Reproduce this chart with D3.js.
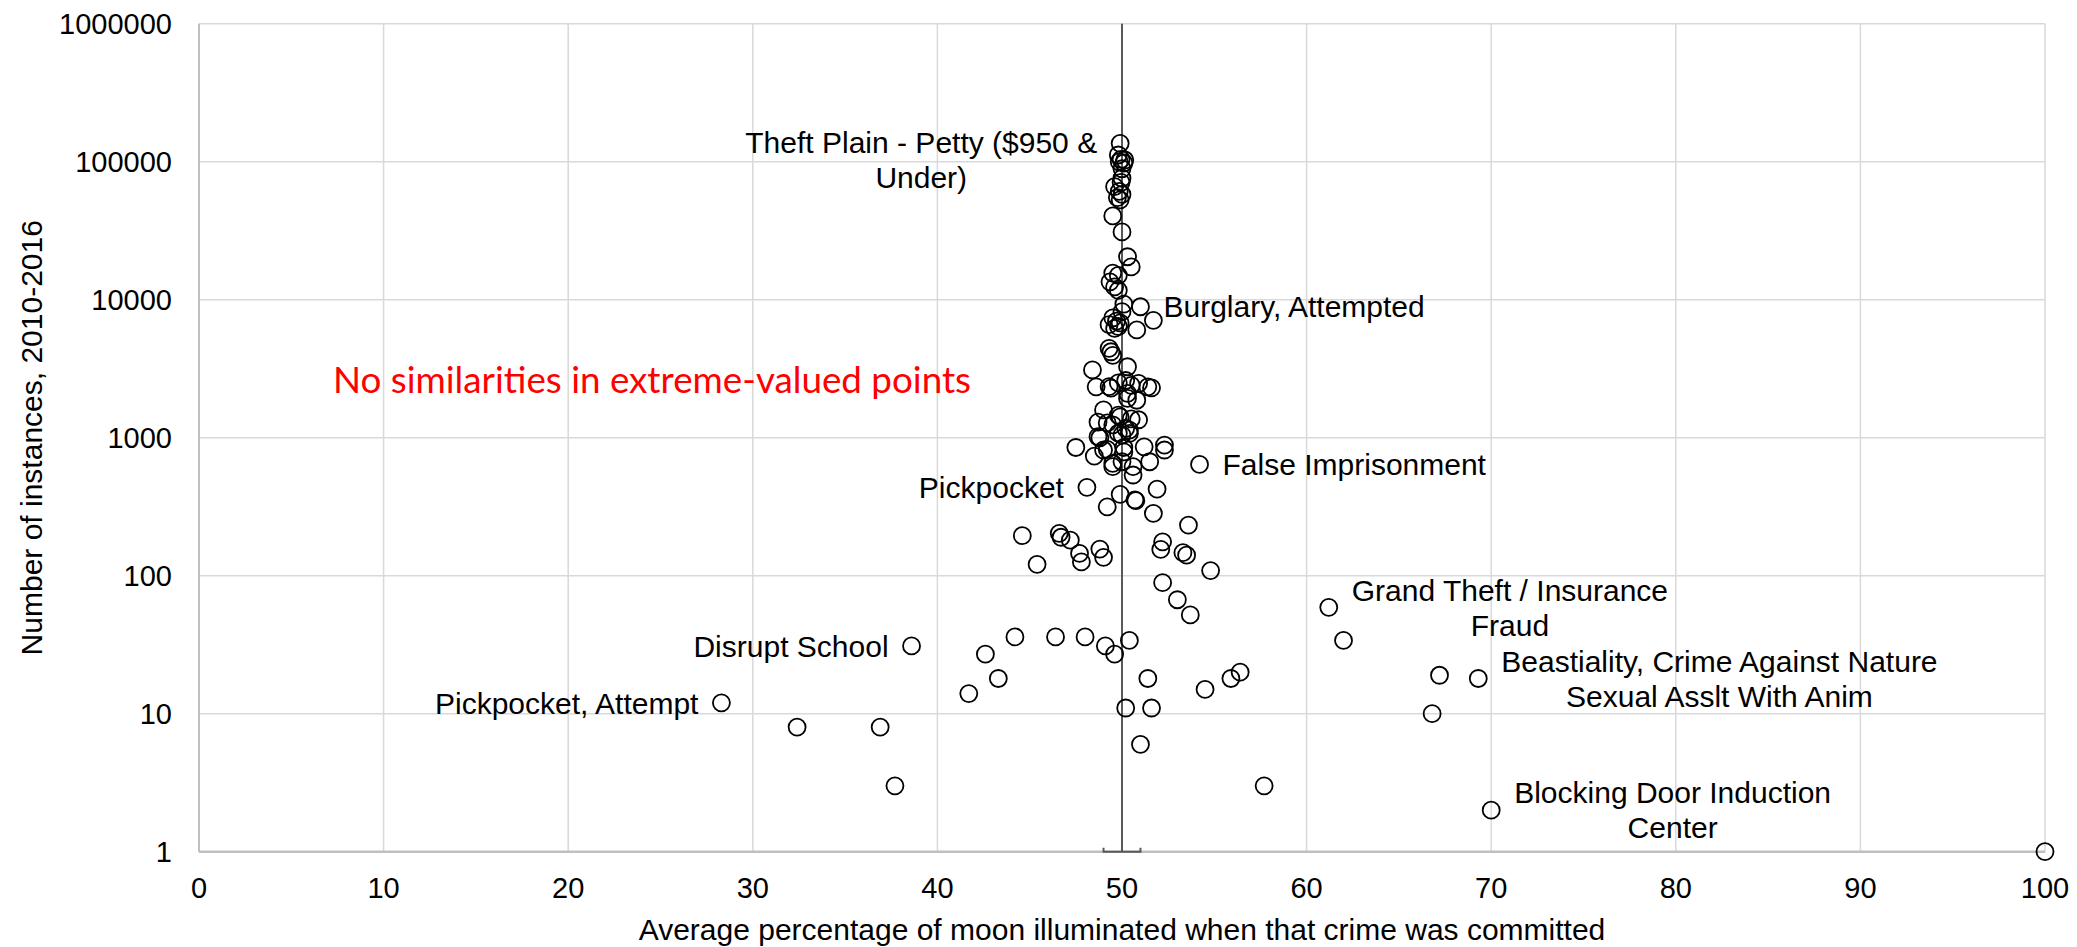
<!DOCTYPE html>
<html>
<head>
<meta charset="utf-8">
<script src="https://cdn.jsdelivr.net/npm/d3@7"></script>
<style>
  body { margin: 0; background: #fff; }
  svg { display: block; }
</style>
</head>
<body>
<div id="app"></div>
<script>
const WIDTH = 2077;
const HEIGHT = 947;

// average % of moon illuminated, per crime type
const moonPct = [
  49.9, 49.8, 49.95, 50.15, 49.85, 50.1, 50.0, 50.0, 49.95, 49.6, 49.85, 50.0, 49.75, 49.9,
  49.5, 50.0, 50.3, 50.5, 49.5, 49.8, 49.35, 49.6, 49.8,
  50.1, 51.0, 50.0, 49.5, 49.7, 49.9, 49.3, 49.8, 49.6, 51.7, 50.8, 49.3, 49.4, 49.5,
  48.4, 50.3, 48.6, 49.3, 49.8, 50.2, 50.5, 50.9, 51.4, 51.6, 49.4, 50.3, 50.8, 50.3,
  49.0, 49.8, 50.5, 48.7, 49.2, 49.5, 49.9, 50.9, 50.4, 49.8, 50.2, 48.8, 48.7, 50.0, 50.4,
  47.5, 48.5, 49.2, 49.0, 49.5, 49.5, 50.1, 50.1, 50.0, 50.6, 51.2, 51.5, 52.3, 52.3, 50.6,
  54.2, 48.1, 49.9, 50.7, 50.75, 51.9, 49.2, 51.7, 53.6,
  44.6, 46.6, 46.7, 47.2, 47.7, 47.8, 48.8, 49.0, 45.4, 52.2, 52.1, 53.3, 53.5, 54.8,
  52.2, 53.0, 53.7, 44.2, 46.4, 48.0, 49.1, 49.6, 50.4, 42.6, 43.3, 41.7, 51.4, 54.5, 55.9, 56.4,
  38.6, 28.3, 32.4, 36.9, 37.7, 50.2, 51.6, 51.0, 57.7,
  61.2, 62.0, 67.2, 69.3, 66.8, 70.0, 100
];

// number of instances, 2010-2016
const instances = [
  136000, 112000, 104000, 103000, 100000, 98000, 89000, 76000, 71000, 66000, 61000, 58000, 55000, 53000,
  40500, 31000, 20500, 17300, 15600, 15000, 13500, 12400, 11700,
  9300, 8900, 8200, 7400, 7000, 6800, 6600, 6400, 6200, 7100, 6050, 4450, 4200, 3950,
  3100, 3270, 2340, 2350, 2500, 2600, 2400, 2480, 2340, 2300, 2290, 2100, 1870, 1930,
  1590, 1460, 1370, 1300, 1280, 1240, 1415, 1350, 1135, 1080, 1170, 1000, 1017, 1047, 1075,
  850, 736, 824, 815, 617, 652, 850, 790, 670, 617, 860, 670, 885, 815, 537,
  641, 437, 389, 355, 350, 425, 316, 283, 233,
  195, 203, 190, 181, 145, 126, 156, 136, 121, 176, 155, 147, 141, 109,
  89, 67, 52, 36, 36, 36, 31, 27, 34, 27, 18, 14, 18, 15, 18, 20,
  31, 12, 8, 8, 3, 11, 11, 6, 3,
  59, 34, 19, 18, 10, 2, 1
];

// labelled points
const labelNames = [
  "Theft Plain - Petty ($950 &\nUnder)",
  "Burglary, Attempted",
  "False Imprisonment",
  "Pickpocket",
  "Disrupt School",
  "Pickpocket, Attempt",
  "Grand Theft / Insurance\nFraud",
  "Beastiality, Crime Against Nature\nSexual Asslt With Anim",
  "Blocking Door Induction\nCenter"
];
const labelPct = [49.9, 51.0, 54.2, 48.1, 38.6, 28.3, 61.2, 69.3, 70.0];
const labelCount = [104000, 8900, 641, 437, 31, 12, 59, 18, 2];
const labelSide = ["left", "right", "right", "left", "left", "left", "right", "right", "right"];

const xTicks = [0, 10, 20, 30, 40, 50, 60, 70, 80, 90, 100];
const yTicks = [1, 10, 100, 1000, 10000, 100000, 1000000];

const annotation = "No similarities in extreme-valued points";

const FONT = "'Liberation Sans', Arial, sans-serif";
const LABEL_SIZE = 30;
const LINE_H = 35;
const GAP = 23;

const x = d3.scaleLinear().domain([0, 100]).range([199, 2045]);
const y = d3.scaleLog().domain([1, 1000000]).range([851.7, 23.8]);

const svg = d3.select("#app")
  .append("svg")
  .attr("width", WIDTH)
  .attr("height", HEIGHT)
  .style("font-family", FONT);

// grid
const grid = svg.append("g").attr("id", "grid")
  .attr("stroke", "#d9d9d9")
  .attr("stroke-width", 1.5);

grid.selectAll("line.v")
  .data(xTicks.slice(1))
  .join("line")
  .attr("class", "v")
  .attr("x1", d => x(d)).attr("x2", d => x(d))
  .attr("y1", y(1)).attr("y2", y(1000000));

grid.selectAll("line.h")
  .data(yTicks.slice(1))
  .join("line")
  .attr("class", "h")
  .attr("x1", x(0)).attr("x2", x(100))
  .attr("y1", d => y(d)).attr("y2", d => y(d));

// axes lines
svg.append("line")
  .attr("x1", x(0)).attr("x2", x(0))
  .attr("y1", y(1)).attr("y2", y(1000000))
  .attr("stroke", "#bfbfbf").attr("stroke-width", 2);

svg.append("line")
  .attr("x1", x(0)).attr("x2", x(100))
  .attr("y1", y(1)).attr("y2", y(1))
  .attr("stroke", "#bfbfbf").attr("stroke-width", 2.5);

// tick labels
svg.append("g")
  .selectAll("text")
  .data(yTicks)
  .join("text")
  .attr("x", 172)
  .attr("y", d => y(d))
  .attr("dy", "0.36em")
  .attr("text-anchor", "end")
  .attr("font-size", 29)
  .attr("fill", "#000")
  .text(d => d);

svg.append("g")
  .selectAll("text")
  .data(xTicks)
  .join("text")
  .attr("x", d => x(d))
  .attr("y", 898)
  .attr("text-anchor", "middle")
  .attr("font-size", 29)
  .attr("fill", "#000")
  .text(d => d);

// axis titles
svg.append("text")
  .attr("x", (x(0) + x(100)) / 2)
  .attr("y", 940)
  .attr("text-anchor", "middle")
  .attr("font-size", 30)
  .text("Average percentage of moon illuminated when that crime was committed");

svg.append("text")
  .attr("transform", `translate(42,${(y(1) + y(1000000)) / 2}) rotate(-90)`)
  .attr("text-anchor", "middle")
  .attr("font-size", 30)
  .text("Number of instances, 2010-2016");

// the 50% reference line with its cap
const ref = svg.append("g").attr("stroke", "#595959").attr("stroke-width", 2).attr("fill", "none");
ref.append("line")
  .attr("x1", x(50)).attr("x2", x(50))
  .attr("y1", y(1000000)).attr("y2", y(1));
ref.append("path")
  .attr("d", `M${x(49)},${y(1) - 4}V${y(1)}H${x(51)}V${y(1) - 4}`);

// points
svg.append("g")
  .attr("id", "points")
  .selectAll("circle")
  .data(d3.range(moonPct.length))
  .join("circle")
  .attr("cx", i => x(moonPct[i]))
  .attr("cy", i => y(instances[i]))
  .attr("r", 8.5)
  .attr("fill", "none")
  .attr("stroke", "#000")
  .attr("stroke-width", 1.8);

// data labels
const labels = svg.append("g").attr("id", "labels")
  .attr("font-size", LABEL_SIZE)
  .attr("fill", "#000");

labelNames.forEach((name, i) => {
  const lines = name.split("\n");
  const px = x(labelPct[i]);
  const py = y(labelCount[i]);
  const t = labels.append("text").attr("text-anchor", "middle");
  const spans = lines.map((line, j) =>
    t.append("tspan")
      .attr("y", py + (j - (lines.length - 1) / 2) * LINE_H + LABEL_SIZE * 0.358)
      .text(line));
  const w = d3.max(spans, s => s.node().getComputedTextLength());
  const cx = labelSide[i] === "right" ? px + GAP + w / 2 : px - GAP - w / 2;
  spans.forEach(s => s.attr("x", cx));
});

// annotation
svg.append("text")
  .attr("x", 333)
  .attr("y", 393)
  .attr("font-family", "Lato, 'Open Sans', sans-serif")
  .attr("font-size", 36)
  .attr("fill", "#ff0000")
  .attr("textLength", 638)
  .attr("lengthAdjust", "spacingAndGlyphs")
  .text(annotation);
</script>
</body>
</html>
